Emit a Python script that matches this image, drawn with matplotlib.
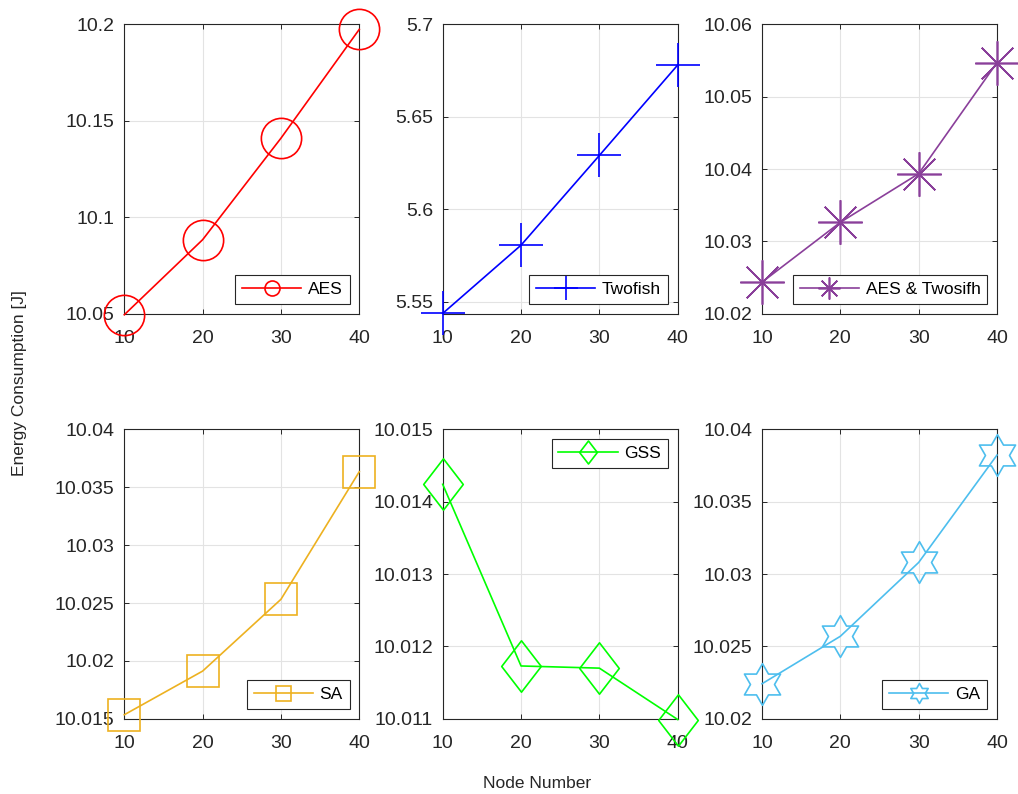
import numpy as np
import matplotlib
matplotlib.use('Agg')
import matplotlib.pyplot as plt
from matplotlib.path import Path

plt.rcParams['font.family'] = ['Liberation Sans', 'DejaVu Sans']

# data
nodes = [10, 20, 30, 40]
aes = [10.0495, 10.0884, 10.1410, 10.1974]
twofish = [5.5437, 5.5806, 5.6291, 5.6780]
aes_twofish = [10.02437, 10.03264, 10.03936, 10.05471]
sa = [10.01535, 10.01912, 10.02532, 10.03634]
gss = [10.01424, 10.01173, 10.01170, 10.01099]
ga = [10.02242, 10.02570, 10.03080, 10.03822]

names = ['AES', 'Twofish', 'AES & Twosifh', 'SA', 'GSS', 'GA']
series = [aes, twofish, aes_twofish, sa, gss, ga]
colors = ['#FF0000', '#0000FF', '#8A3F9A', '#EDB120', '#00FF00', '#4DBEEE']
ylims = [(10.05, 10.2), (5.5435, 5.7), (10.02, 10.06),
         (10.015, 10.04), (10.011, 10.015), (10.02, 10.04)]
yticks = [[10.05, 10.1, 10.15, 10.2],
          [5.55, 5.6, 5.65, 5.7],
          [10.02, 10.03, 10.04, 10.05, 10.06],
          [10.015, 10.02, 10.025, 10.03, 10.035, 10.04],
          [10.011, 10.012, 10.013, 10.014, 10.015],
          [10.02, 10.025, 10.03, 10.035, 10.04]]
ytick_labels = [['10.05', '10.1', '10.15', '10.2'],
                ['5.55', '5.6', '5.65', '5.7'],
                ['10.02', '10.03', '10.04', '10.05', '10.06'],
                ['10.015', '10.02', '10.025', '10.03', '10.035', '10.04'],
                ['10.011', '10.012', '10.013', '10.014', '10.015'],
                ['10.02', '10.025', '10.03', '10.035', '10.04']]
legend_locs = ['lower right', 'lower right', 'lower right',
               'lower right', 'upper right', 'lower right']

# marker shapes (MATLAB-like)
ang = np.deg2rad(90 + 30 * np.arange(12))
rad = np.where(np.arange(12) % 2 == 0, 1.0, 1 / np.sqrt(3))
hexagram = Path(np.column_stack([rad * np.cos(ang), rad * np.sin(ang)]).tolist()
                + [[0, 1]], closed=True)
diamond = Path([[0, 1], [0.77, 0], [0, -1], [-0.77, 0], [0, 1]], closed=True)

markers = ['o', '+', (8, 2, 0), 's', diamond, hexagram]
msizes = [29, 31, 32, 23, 37, 30]
legend_px = [15, 25, 22, 15, 23, 20]

fig = plt.figure(figsize=(10.18, 7.94), dpi=100)
W, H = 1018, 794
lefts = [124.3, 442.7, 762.0]
tops = [24.3, 429.3]
aw, ah = 235.0, 289.5

axc = '#262626'
for i in range(6):
    r, c = divmod(i, 3)
    ax = fig.add_axes([lefts[c] / W, 1 - (tops[r] + ah) / H, aw / W, ah / H])
    ax.plot(nodes, series[i], color=colors[i], lw=1.2, marker=markers[i],
            ms=msizes[i], mfc='none', mec=colors[i], mew=1.2,
            clip_on=False, label=names[i], zorder=3)
    ax.set_xlim(10, 40)
    ax.set_ylim(*ylims[i])
    ax.set_xticks(nodes)
    ax.set_yticks(yticks[i])
    ax.set_yticklabels(ytick_labels[i])
    ax.grid(True, color='#e3e3e3', lw=0.8)
    ax.set_axisbelow(True)
    ax.tick_params(direction='in', length=3.5, width=0.7, colors=axc,
                   labelsize=14, top=True, right=True)
    ax.tick_params(axis='x', pad=12)
    ax.tick_params(axis='y', pad=7)
    for s in ax.spines.values():
        s.set_color(axc)
        s.set_linewidth(0.8)
    leg = ax.legend(loc=legend_locs[i], fontsize=12.5, fancybox=False,
                    edgecolor=axc, framealpha=1, handlelength=3.4,
                    borderaxespad=0.55, borderpad=0.4, handletextpad=0.4,
                    markerscale=legend_px[i] / (msizes[i] / 0.72))
    leg.get_frame().set_linewidth(0.8)
    leg.set_zorder(5)

fig.text(20 / W, 1 - 383 / H, 'Energy Consumption [J]', rotation=90,
         ha='center', va='center', fontsize=12.5, color=axc)
fig.text(537 / W, 1 - 783 / H, 'Node Number', ha='center', va='center',
         fontsize=12.5, color=axc)

fig.savefig('out.png', dpi=100)
plt.close(fig)
